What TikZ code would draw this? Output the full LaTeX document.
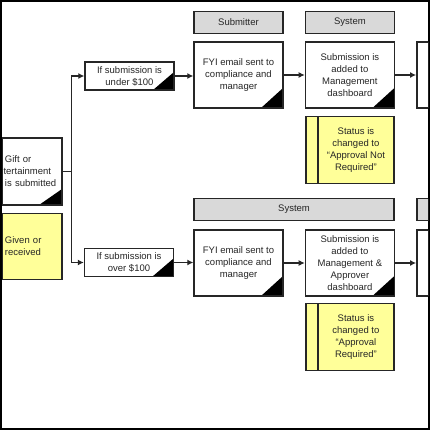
\documentclass[tikz,border=0pt]{standalone}
\usepackage{fontspec}
\setmainfont{Liberation Sans}
\usepackage{xcolor}
\usepackage{tikz}
\usetikzlibrary{shapes, arrows.meta, positioning, calc}
\definecolor{notefill}{RGB}{255,255,153}
\definecolor{lanefill}{RGB}{217,217,217}

\begin{document}
\begin{tikzpicture}[x=1pt, y=-1pt, node distance=21pt, >={Latex[length=6pt,width=6pt]}, line width=1.2pt, color=black!85, font=\fontsize{9.5}{12}\selectfont]
    \tikzstyle{docbox} = [rectangle, draw, line width=1.4pt, fill=white, minimum width=89pt, minimum height=66pt, align=center, inner sep=2pt,
        path picture={\fill[black] (path picture bounding box.south east) -- ++(-22pt,0) -- ++(22pt,20pt) -- cycle;}]
    \tikzstyle{condbox} = [docbox, minimum height=28pt,
        path picture={\fill[black] (path picture bounding box.south east) -- ++(-21pt,0) -- ++(21pt,18pt) -- cycle;}]
    \tikzstyle{lane} = [rectangle, draw, line width=1.4pt, fill=lanefill, minimum width=89pt, minimum height=22pt, inner sep=0pt]
    \tikzstyle{status} = [rectangle, draw, line width=1.4pt, fill=notefill, minimum width=88pt, minimum height=67pt, inner sep=0pt,
        path picture={\draw[line width=1.4pt] ([xshift=12pt]path picture bounding box.north west) -- ([xshift=12pt]path picture bounding box.south west);}]

    \useasboundingbox (0,0) rectangle (430,430);
    \fill[black] (0,0) rectangle (430,430);
    \fill[white] (2,2) rectangle (428,428);

    \begin{scope}
    \clip (2,2) rectangle (428,428);

    % start
    \node [docbox, minimum width=0pt, minimum height=67pt, text width=54pt, align=left, inner sep=3pt,
        path picture={\fill[black] (path picture bounding box.south east) -- ++(-23pt,0) -- ++(23pt,16pt) -- cycle;}] (gift) at (32,171.5) {Gift or\\\hspace*{-12pt}entertainment\\is submitted};
    \node [status, path picture={}, minimum width=60pt, minimum height=66pt, text width=54pt, align=left, inner sep=3pt, below=7pt of gift] (given) {Given or\\received};

    % branches
    \node [condbox] (under) at (129.5,76) {If submission is\\under \$100};
    \node [condbox] (over) at (129,262.5) {If submission is\\over \$100};

    % upper row
    \node [docbox] (fyiA) at (238.5,75) {FYI email sent to\\compliance and\\manager};
    \node [docbox, right=of fyiA] (subA) {Submission is\\added to\\Management\\dashboard};
    \node [docbox, right=of subA] (nextA) {};
    \node [lane, above=7pt of fyiA] (laneA) {Submitter};
    \node [lane, above=7pt of subA] (laneB) {System};
    \node [status, below=7pt of subA] (statA) {\hspace*{12pt}\parbox{76pt}{\centering Status is\\changed to\\``Approval Not\\Required''}};

    % lower row
    \node [docbox] (fyiB) at (238.5,263) {FYI email sent to\\compliance and\\manager};
    \node [docbox, right=of fyiB] (subB) {Submission is\\added to\\Management \&\\Approver\\dashboard};
    \node [docbox, right=of subB, align=left, text width=60pt, inner xsep=8pt] (nextB) {D};
    \node [lane, minimum width=200pt, above=8pt of fyiB.north west, anchor=south west] (laneC) {System};
    \node [lane, above=8pt of nextB] (laneD) {};
    \node [status, below=6pt of subB] (statB) {\hspace*{12pt}\parbox{76pt}{\centering Status is\\changed to\\``Approval\\Required''}};

    % Connections
    \draw (gift.east) -- ++(9pt,0) coordinate (split);
    \draw[->] (split) |- (under.west);
    \draw[->] (split) |- (over.west);
    \draw[->] (under.east) -- (under.east -| fyiA.west);
    \draw[->] (fyiA.east) -- (subA.west);
    \draw[->] (subA.east) -- (nextA.west);
    \draw[->] (over.east) -- (over.east -| fyiB.west);
    \draw[->] (fyiB.east) -- (subB.west);
    \draw[->] (subB.east) -- (nextB.west);
    \end{scope}
\end{tikzpicture}
\end{document}
